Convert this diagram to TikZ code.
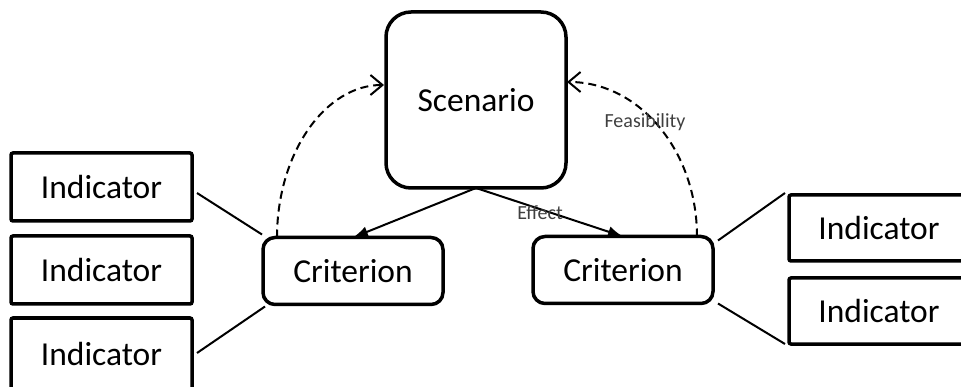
\documentclass[tikz,border=0pt]{standalone}
\usepackage{fontspec}
\setmainfont{Carlito}
\usetikzlibrary{arrows.meta,calc}
\begin{document}
\begin{tikzpicture}[x=1pt,y=-1pt,
  box/.style={draw,line width=3.5pt,inner sep=0pt,outer sep=0pt,
    font=\fontsize{33.5}{40}\selectfont},
  indbox/.style={box,rounded corners=2pt,minimum width=181pt,minimum height=68pt},
  critbox/.style={box,rounded corners=12pt,minimum width=180pt,minimum height=67pt},
  scenbox/.style={box,rounded corners=25pt,minimum width=180pt,minimum height=176pt},
  link/.style={line width=2pt},
  arr/.style={line width=2pt,-{Latex[length=15pt,width=11pt]}},
  dasharr/.style={line width=2pt,dash pattern=on 8pt off 5pt,
    -{Straight Barb[length=12pt,width=20pt,line width=2pt]}},
  lbl/.style={font=\fontsize{20}{24}\selectfont,text=black!75,inner sep=0pt}]
\useasboundingbox (0,0) rectangle (961,387);
\clip (0,0) rectangle (961,387);

\node[scenbox] (scen) at (476,100) {Scenario};
\node[critbox] (critL) at (353,271) {Criterion};
\node[critbox] (critR) at (623,270) {Criterion};

\node[indbox] (ind1) at (101.5,187) {Indicator};
\node[indbox] (ind2) at (101.5,270) {Indicator};
\node[indbox,minimum height=72pt] (ind3) at (101.5,354) {Indicator};
\node[indbox,minimum width=180pt,minimum height=66pt] (ind4) at (879,228) {Indicator};
\node[indbox,minimum width=180pt,minimum height=66pt] (ind5) at (879,311) {Indicator};

\draw[link] ([xshift=5pt,yshift=-6pt]ind1.east) -- ([xshift=-1pt,yshift=3pt]critL.north west);
\draw[link] ([xshift=5pt,yshift=1pt]ind3.east) -- ([xshift=2pt,yshift=-2pt]critL.south west);
\draw[link] ([xshift=5pt,yshift=-4pt]critR.north east) -- ([xshift=-4pt,yshift=2pt]ind4.north west);
\draw[link] ([xshift=5pt]critR.south east) -- ([xshift=-4pt]ind5.south west);

\draw[arr] (scen.south) -- (critL.north);
\draw[arr] (scen.south) -- (critR.north);

\draw[dasharr] ([xshift=14pt]critL.north west) .. controls +(0,-84) and +(-59,0) .. ([xshift=-2pt,yshift=15pt]scen.west);
\draw[dasharr] ([xshift=-16pt]critR.north east) .. controls +(0,-86) and +(72,0) .. ([xshift=1pt,yshift=18pt]scen.east);

\node[lbl] (effect) at (540,213) {Effect};
\node[lbl] (feas) at (645,122) {Feasibility};
\end{tikzpicture}
\end{document}
